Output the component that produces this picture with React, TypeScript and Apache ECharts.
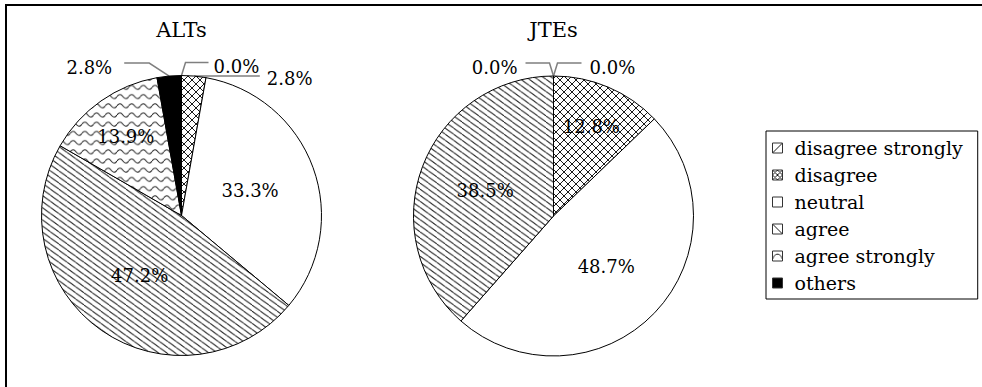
import { useEffect, useRef } from 'react';
import * as echarts from 'echarts';

// Response categories and the share (%) of each group
const categories = ['disagree strongly', 'disagree', 'neutral', 'agree', 'agree strongly', 'others'];
const altsValues = [0.0, 2.8, 33.3, 47.2, 13.9, 2.8];
const jtesCategories = ['disagree strongly', 'disagree', 'neutral', 'agree', 'agree strongly'];
const jtesValues = [0.0, 12.8, 48.7, 38.5, 0.0];
const groupTitles = ['ALTs', 'JTEs'];

const FONT = 'DejaVu Serif';
const INK = '#1a1a1a';
const RADIUS = 140;
const CENTERS: [number, number][] = [
  [181.5, 215.5],
  [553.5, 216],
];

// ---- hatch patterns, built as tiny SVG tiles ----
function svgTile(w: number, h: number, body: string, bg = '#ffffff') {
  const svg =
    `<svg xmlns='http://www.w3.org/2000/svg' width='${w}' height='${h}' viewBox='0 0 ${w} ${h}'>` +
    `<rect width='${w}' height='${h}' fill='${bg}'/>${body}</svg>`;
  return {
    image: 'data:image/svg+xml;charset=utf-8,' + encodeURIComponent(svg),
    imageWidth: w,
    imageHeight: h,
    repeat: 'repeat',
  };
}
const strokeAttr = `stroke='${INK}' stroke-width='1' fill='none'`;
function diagLines(w: number, h: number, down: boolean) {
  return [-w, 0, w]
    .map((o) =>
      down
        ? `<line x1='${o}' y1='0' x2='${o + w}' y2='${h}' ${strokeAttr}/>`
        : `<line x1='${o}' y1='${h}' x2='${o + w}' y2='0' ${strokeAttr}/>`
    )
    .join('');
}
const sliceFills: Record<string, any> = {
  'disagree strongly': svgTile(8.4, 6.1, diagLines(8.4, 6.1, false)),
  disagree: svgTile(8, 8, diagLines(8, 8, true) + diagLines(8, 8, false)),
  neutral: '#ffffff',
  agree: svgTile(8.4, 6.1, diagLines(8.4, 6.1, true)),
  'agree strongly': svgTile(11.7, 9.2, `<path d='M0 4.6 Q2.925 0.6 5.85 4.6 T11.7 4.6' ${strokeAttr}/>`),
  others: '#000000',
};
const iconFills: Record<string, any> = {
  'disagree strongly': svgTile(10, 10, `<line x1='0' y1='10' x2='10' y2='0' ${strokeAttr}/>`),
  disagree: svgTile(
    10,
    10,
    `<line x1='0' y1='0' x2='10' y2='10' ${strokeAttr}/><line x1='0' y1='10' x2='10' y2='0' ${strokeAttr}/>` +
      `<polygon points='5,0 10,5 5,10 0,5' ${strokeAttr}/>`
  ),
  neutral: '#ffffff',
  agree: svgTile(10, 10, `<line x1='0' y1='0' x2='10' y2='10' ${strokeAttr}/>`),
  'agree strongly': svgTile(10, 10, `<path d='M0 8 C2.5 1.5 7.5 1.5 10 8' ${strokeAttr}/>`),
  others: '#000000',
};

// leader-line settings for the slices labelled outside the pie
// side: +1 label to the right, -1 to the left
const OUTSIDE_LIMIT = 5;
type Leader = { side: number; rise: number; slant: number; run: number; gap: number; drop: number };
const leaderStyles: Record<string, Leader>[] = [
  {
    'disagree strongly': { side: 1, rise: 13, slant: 4, run: 23, gap: 5, drop: 4 },
    disagree: { side: 1, rise: 0, slant: 0, run: 66, gap: 7, drop: 2 },
    others: { side: -1, rise: 13, slant: 20, run: 25, gap: 12, drop: 4 },
  },
  {
    'disagree strongly': { side: 1, rise: 13, slant: 4, run: 24, gap: 8, drop: 4 },
    'agree strongly': { side: -1, rise: 13, slant: 4, run: 24, gap: 8, drop: 4 },
  },
];

const labelText = {
  fontFamily: FONT,
  fontSize: 18,
  color: '#000',
};

function pieSeries(idx: number, names: string[], values: number[]) {
  const total = values.reduce((a, b) => a + b, 0);
  const [cx, cy] = CENTERS[idx];
  const midAngle = (i: number) => {
    const before = values.slice(0, i).reduce((a, b) => a + b, 0);
    return ((before + values[i] / 2) / total) * Math.PI * 2;
  };
  return {
    type: 'pie',
    name: groupTitles[idx],
    center: CENTERS[idx],
    radius: RADIUS,
    startAngle: 90,
    clockwise: true,
    avoidLabelOverlap: false,
    silent: true,
    animation: false,
    emphasis: { disabled: true },
    itemStyle: { borderColor: '#000', borderWidth: 1 },
    label: {
      show: true,
      position: 'inside',
      formatter: (p: any) => `${Number(p.value).toFixed(1)}%`,
      ...labelText,
    },
    labelLine: { show: true, lineStyle: { color: '#7f7f7f', width: 1.5 } },
    labelLayout: (p: any) => {
      if (p.seriesIndex !== idx) return {};
      const i = p.dataIndex;
      const v = values[i];
      const m = midAngle(i);
      if (v < OUTSIDE_LIMIT) {
        // leader from the slice's rim up and out to a horizontal run
        const ls = leaderStyles[idx][names[i]];
        const ax = cx + RADIUS * Math.sin(m);
        const ay = cy - RADIUS * Math.cos(m);
        const ex = ax + ls.side * ls.slant;
        const ey = ay - ls.rise;
        const fx = ex + ls.side * ls.run;
        return {
          x: fx + ls.side * ls.gap,
          y: ey + ls.drop,
          align: ls.side > 0 ? 'left' : 'right',
          verticalAlign: 'middle',
          labelLinePoints: [
            [ax, ay],
            [ex, ey],
            [fx, ey],
          ],
        };
      }
      if (v >= 20) return {};
      // thin slices get their inner label further out, where there is room
      const k = 0.17 * RADIUS;
      return { dx: k * Math.sin(m), dy: -k * Math.cos(m) };
    },
    data: names.map((n, i) => {
      const outside = values[i] < OUTSIDE_LIMIT;
      return {
        name: n,
        value: values[i],
        itemStyle: { color: sliceFills[n] },
        label: { position: outside ? 'outside' : 'inside' },
        labelLine: { show: outside },
      };
    }),
  };
}

export default function App() {
  const ref = useRef<HTMLDivElement>(null);

  useEffect(() => {
    if (!ref.current) return;
    const chart = echarts.init(ref.current, null, { renderer: 'svg' });
    chart.setOption({
      animation: false,
      backgroundColor: '#ffffff',
      legend: {
        orient: 'vertical',
        left: 766,
        top: 131,
        padding: [7, 15, 6, 6],
        itemGap: 7,
        itemWidth: 10,
        itemHeight: 10,
        icon: 'rect',
        selectedMode: false,
        borderColor: '#000',
        borderWidth: 1,
        textStyle: { fontFamily: FONT, fontSize: 19, color: '#000', lineHeight: 20, padding: [0, 0, 0, 7] },
        data: categories.map((n) => ({
          name: n,
          itemStyle: { color: iconFills[n], borderColor: '#333', borderWidth: 1 },
        })),
      },
      graphic: [
        {
          type: 'polyline',
          silent: true,
          shape: {
            points: [
              [6, 387],
              [6, 5],
              [982, 5],
            ],
          },
          style: { fill: 'none', stroke: '#000', lineWidth: 2 },
        },
        ...groupTitles.map((t, i) => ({
          type: 'text',
          silent: true,
          x: CENTERS[i][0],
          y: 30,
          style: { text: t, align: 'center', verticalAlign: 'middle', font: `21px ${FONT}`, fill: '#000' },
        })),
      ],
      series: [pieSeries(0, categories, altsValues), pieSeries(1, jtesCategories, jtesValues)],
    });
    return () => chart.dispose();
  }, []);

  return (
    <div
      ref={ref}
      style={{ position: 'absolute', left: 0, top: 0, width: 982, height: 387, background: '#fff' }}
    />
  );
}
